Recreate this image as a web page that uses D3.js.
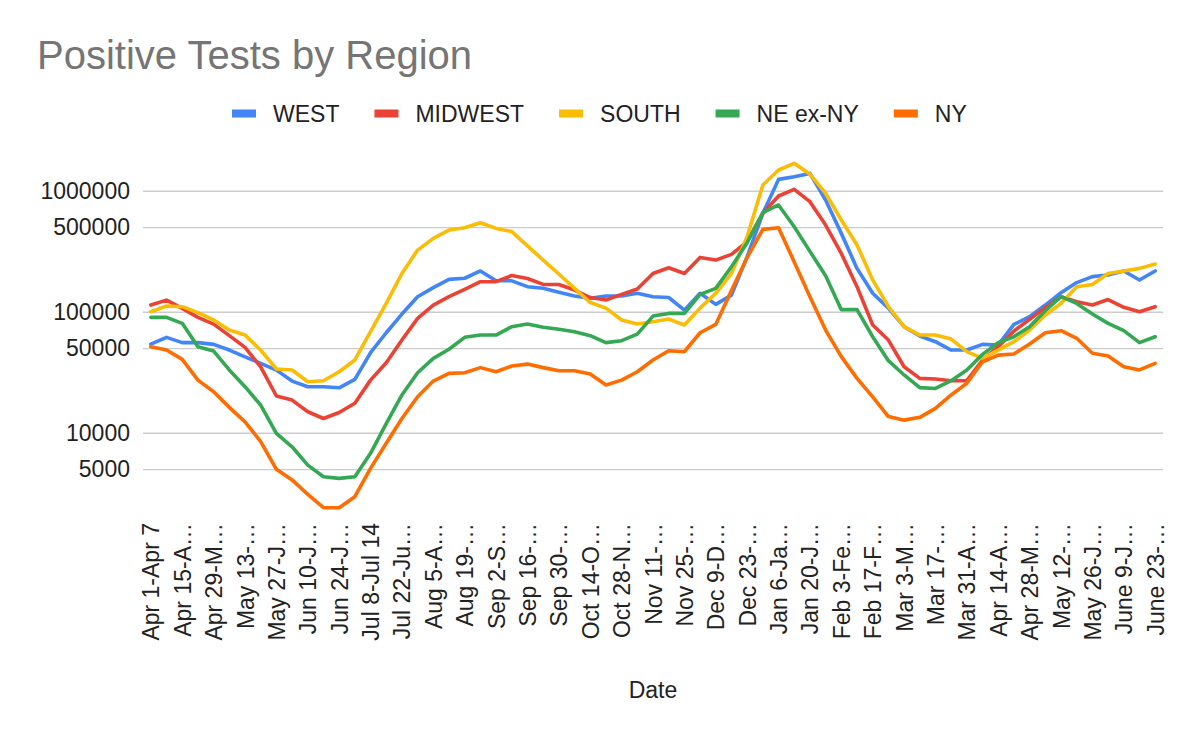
<!DOCTYPE html>
<html>
<head>
<meta charset="utf-8">
<script src="https://cdn.jsdelivr.net/npm/d3@7"></script>
<style>
  html, body { margin: 0; padding: 0; background: #fff; }
  svg { display: block; font-family: "Liberation Sans", Arial, sans-serif; }
  .grid line { stroke: #cccccc; stroke-width: 1.4; }
  .grid .domain { display: none; }
  .axis text { fill: #222; font-size: 23px; }
  .series { fill: none; stroke-width: 3.6; stroke-linejoin: round; stroke-linecap: round; }
</style>
</head>
<body>
<svg id="chart" width="1200" height="742"></svg>
<script>
// weekly periods, Apr 2020 - Jun 2021
const categories = [
    "Apr 1-Apr 7", "Apr 8-Apr 14", "Apr 15-Apr 21", "Apr 22-Apr 28", "Apr 29-May 5",
    "May 6-May 12", "May 13-May 19", "May 20-May 26", "May 27-Jun 2", "Jun 3-Jun 9",
    "Jun 10-Jun 16", "Jun 17-Jun 23", "Jun 24-Jun 30", "Jul 1-Jul 7", "Jul 8-Jul 14",
    "Jul 15-Jul 21", "Jul 22-Jul 28", "Jul 29-Aug 4", "Aug 5-Aug 11", "Aug 12-Aug 18",
    "Aug 19-Aug 25", "Aug 26-Sep 1", "Sep 2-Sep 8", "Sep 9-Sep 15", "Sep 16-Sep 22",
    "Sep 23-Sep 29", "Sep 30-Oct 6", "Oct 7-Oct 13", "Oct 14-Oct 20", "Oct 21-Oct 27",
    "Oct 28-Nov 3", "Nov 4-Nov 10", "Nov 11-Nov 17", "Nov 18-Nov 24", "Nov 25-Dec 1",
    "Dec 2-Dec 8", "Dec 9-Dec 15", "Dec 16-Dec 22", "Dec 23-Dec 29", "Dec 30-Jan 5",
    "Jan 6-Jan 12", "Jan 13-Jan 19", "Jan 20-Jan 26", "Jan 27-Feb 2", "Feb 3-Feb 9",
    "Feb 10-Feb 16", "Feb 17-Feb 23", "Feb 24-Mar 2", "Mar 3-Mar 9", "Mar 10-Mar 16",
    "Mar 17-Mar 23", "Mar 24-Mar 30", "Mar 31-Apr 6", "Apr 7-Apr 13", "Apr 14-Apr 20",
    "Apr 21-Apr 27", "Apr 28-May 4", "May 5-May 11", "May 12-May 18", "May 19-May 25",
    "May 26-June 1", "June 2-June 8", "June 9-June 15", "June 16-June 22", "June 23-June 29"
];

// labels as they show on the axis (every 2nd week, cut off)
const tickLabels = [
    "Apr 1-Apr 7", "Apr 15-A\u2026", "Apr 29-M\u2026", "May 13-\u2026", "May 27-J\u2026",
    "Jun 10-J\u2026", "Jun 24-J\u2026", "Jul 8-Jul 14", "Jul 22-Ju\u2026", "Aug 5-A\u2026",
    "Aug 19-\u2026", "Sep 2-S\u2026", "Sep 16-\u2026", "Sep 30-\u2026", "Oct 14-O\u2026",
    "Oct 28-N\u2026", "Nov 11-\u2026", "Nov 25-\u2026", "Dec 9-D\u2026", "Dec 23-\u2026",
    "Jan 6-Ja\u2026", "Jan 20-J\u2026", "Feb 3-Fe\u2026", "Feb 17-F\u2026", "Mar 3-M\u2026",
    "Mar 17-\u2026", "Mar 31-A\u2026", "Apr 14-A\u2026", "Apr 28-M\u2026", "May 12-\u2026",
    "May 26-J\u2026", "June 9-J\u2026", "June 23-\u2026"
];

const yTicks = [5000, 10000, 50000, 100000, 500000, 1000000];

const seriesNames = ["WEST", "MIDWEST", "SOUTH", "NE ex-NY", "NY"];
const seriesColors = ["#4285F4", "#EA4335", "#FBBC04", "#34A853", "#FF6D01"];

const west = [
    54000, 61400, 55500, 55500, 53700, 48200, 42400, 37400, 32900, 26700,
    24000, 24000, 23500, 27600, 45800, 67000, 95600, 133000, 158000, 185000,
    189000, 217000, 180000, 180000, 161000, 156000, 145000, 135000, 129000, 135000,
    135000, 142000, 133000, 131000, 103000, 142000, 115000, 137000, 285000, 650000,
    1240000, 1306000, 1390000, 837000, 444000, 228000, 142000, 107000, 75200, 63000,
    56500, 48200, 48200, 53700, 53100, 78500, 91000, 113500, 143500, 174000,
    195000, 201000, 217000, 183000, 217000
];
const midwest = [
    113500, 124700, 106600, 89800, 79000, 63400, 50700, 35000, 20100, 18600,
    14900, 13100, 14700, 17500, 27200, 37900, 58300, 88100, 113500, 133000,
    153000, 177000, 177000, 199000, 188000, 168000, 168000, 151000, 131000, 125000,
    139000, 154000, 207000, 231000, 207000, 281000, 267000, 298000, 379000, 650000,
    904000, 1026000, 811000, 520000, 303000, 161000, 77600, 58300, 35100, 28100,
    27800, 26900, 26900, 39900, 51400, 69200, 86500, 108000, 133000, 121000,
    113500, 126000, 108700, 100000, 110000
];
const south = [
    100000, 111400, 110000, 98200, 85400, 70500, 64100, 48200, 33600, 33000,
    26400, 26900, 31900, 39900, 68400, 117000, 207000, 323000, 404000, 473000,
    494000, 544000, 488000, 459000, 350000, 267000, 205000, 156000, 119000, 107000,
    85400, 79000, 82700, 86900, 77600, 107000, 142000, 207000, 417000, 1113000,
    1482000, 1683000, 1370000, 950000, 573000, 356000, 183000, 110000, 75200, 64100,
    64100, 59400, 46700, 41100, 48200, 56500, 70500, 93800, 117000, 161000,
    168000, 207000, 217000, 228000, 248000
];
const neExNy = [
    89800, 89800, 80100, 51400, 47300, 33000, 24000, 16900, 9870, 7650,
    5400, 4330, 4190, 4330, 6750, 11900, 20500, 31300, 41100, 48900,
    61400, 64100, 64100, 75200, 79000, 74300, 71500, 68400, 63400, 55500,
    57600, 65300, 92000, 96800, 96800, 139000, 156000, 235000, 372000, 658000,
    762000, 504000, 315000, 198000, 104000, 104000, 62100, 39400, 30000, 23600,
    23200, 26900, 33000, 44400, 55500, 62100, 75200, 102000, 133000, 117000,
    95700, 80100, 69700, 55500, 62100
];
const ny = [
    51400, 48200, 40400, 27200, 21800, 16200, 12300, 8440, 4980, 4070,
    3090, 2400, 2400, 2960, 5070, 8170, 13100, 19800, 26700, 30900,
    31300, 34500, 31900, 35600, 36900, 34500, 32500, 32500, 30500, 24800,
    27200, 31900, 39900, 47600, 46700, 67000, 78500, 150000, 280000, 479000,
    494000, 258000, 133000, 70500, 42500, 28100, 19800, 13600, 12700, 13400,
    15900, 20500, 25600, 38600, 43800, 44700, 54100, 67000, 69700, 60300,
    45300, 43000, 35100, 33000, 37400
];

const seriesValues = [west, midwest, south, neExNy, ny];

const svg = d3.select("#chart");
const plot = {left: 143, right: 1163, top: 150, bottom: 510};

let x = d3.scalePoint()
    .domain(categories)
    .range([plot.left, plot.right])
    .padding(0.5);

let y = d3.scaleLog()
    .domain([10000, 1000000])
    .range([432.7, 190.7]);

// title
svg.append("text")
    .attr("x", 37)
    .attr("y", 68.5)
    .attr("fill", "#757575")
    .style("font-size", "40px")
    .text("Positive Tests by Region");

// legend, laid out left to right
let lx = 232;
seriesNames.forEach(function (name, i) {
    svg.append("rect")
        .attr("x", lx)
        .attr("y", 109.5)
        .attr("width", 24)
        .attr("height", 8)
        .attr("fill", seriesColors[i]);
    let t = svg.append("text")
        .attr("x", lx + 41)
        .attr("y", 121.5)
        .attr("fill", "#222")
        .style("font-size", "23px")
        .text(name);
    lx += 41 + t.node().getComputedTextLength() + 35;
});

// y gridlines + labels
svg.append("g")
    .attr("class", "grid axis")
    .attr("transform", "translate(" + plot.left + ",0)")
    .call(d3.axisLeft(y)
        .tickValues(yTicks)
        .tickFormat(d3.format("d"))
        .tickSize(-(plot.right - plot.left))
        .tickPadding(13));

// x labels
let xAxis = svg.append("g")
    .attr("class", "axis")
    .attr("transform", "translate(0," + plot.bottom + ")")
    .call(d3.axisBottom(x)
        .tickValues(categories.filter(function (d, i) { return i % 2 === 0; }))
        .tickFormat(function (d, i) { return tickLabels[i]; })
        .tickSize(0));
xAxis.select(".domain").remove();
xAxis.selectAll("text")
    .attr("transform", "rotate(-90)")
    .attr("x", -13)
    .attr("y", 0)
    .attr("dy", "0.35em")
    .style("text-anchor", "end");

// axis title
svg.append("text")
    .attr("x", (plot.left + plot.right) / 2)
    .attr("y", 698)
    .attr("text-anchor", "middle")
    .attr("fill", "#222")
    .style("font-size", "23px")
    .text("Date");

let line = d3.line()
    .x(function (d, i) { return x(categories[i]); })
    .y(function (d) { return y(d); });

svg.selectAll(".series")
    .data(seriesValues)
    .enter().append("path")
    .attr("class", "series")
    .attr("stroke", function (d, i) { return seriesColors[i]; })
    .attr("d", line);
</script>
</body>
</html>
